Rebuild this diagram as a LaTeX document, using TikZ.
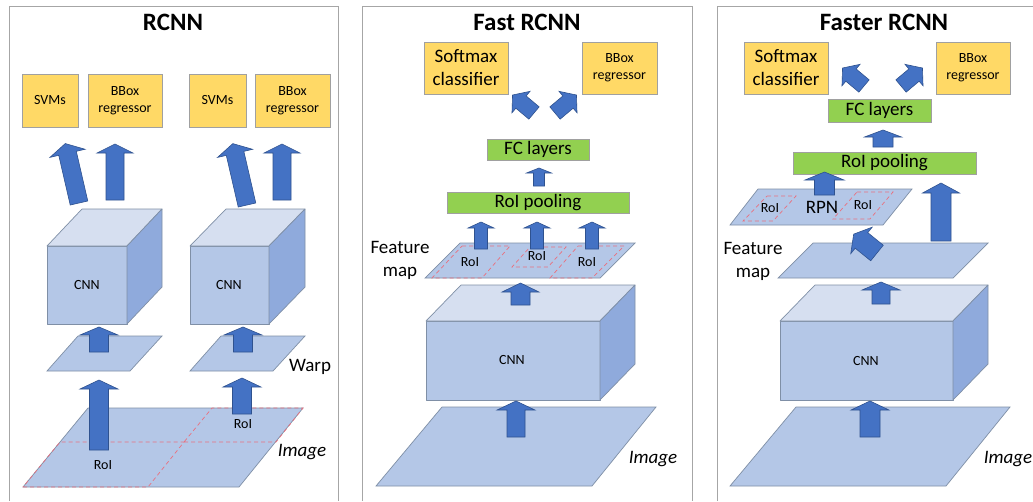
\documentclass[tikz,border=0pt]{standalone}
\usepackage{fontspec}
\setmainfont{Carlito}
\definecolor{ybox}{HTML}{FFD966}
\definecolor{gbox}{HTML}{92D050}
\definecolor{boxline}{HTML}{A0A0A0}
\definecolor{arrowfill}{HTML}{4472C4}
\definecolor{arrowline}{HTML}{2F528F}
\definecolor{planefill}{HTML}{B4C7E7}
\definecolor{planeline}{HTML}{7F8FA6}
\definecolor{cubetop}{HTML}{D6DFF0}
\definecolor{cuberight}{HTML}{8FAADC}
\definecolor{roiline}{HTML}{E8707F}
\definecolor{panelline}{HTML}{A6A6A6}
\newcommand\fsmall{\fontsize{14}{17}\selectfont}
\newcommand\fbig{\fontsize{19}{23}\selectfont}
\newcommand\ftitle{\fontsize{25}{30}\selectfont\bfseries}
\newcommand\drawcube[6]{%
  \path[cubestyle, fill=planefill] (#1,#2) rectangle ++(#3,#4);
  \path[cubestyle, fill=cubetop] (#1,#2) -- ++(#5,-#6) -- ++(#3,0) -- ++(-#5,#6) -- cycle;
  \path[cubestyle, fill=cuberight] (#1+#3,#2) -- ++(#5,-#6) -- ++(0,#4) -- ++(-#5,#6) -- cycle;
}
\tikzset{
  yellowbox/.style={draw=boxline, fill=ybox, line width=0.8pt, inner sep=0pt, align=center},
  greenbox/.style={draw=boxline, fill=gbox, line width=0.8pt, inner sep=0pt, align=center, font=\fbig},
  blockarrow/.style={fill=arrowfill, draw=arrowline, line width=0.6pt, line join=miter},
  plane/.style={fill=planefill, draw=planeline, line width=0.7pt},
  cubestyle/.style={draw=planeline, line width=0.7pt, line join=round},
  roi/.style={draw=roiline, dash pattern=on 4pt off 3pt, line width=0.7pt},
  panel/.style={draw=panelline, line width=1pt},
  lbl/.style={inner sep=0pt, font=\fsmall},
  biglbl/.style={inner sep=0pt, font=\fbig, align=center},
  pics/barrow/.style args={#1/#2/#3/#4}{code={
    \path[blockarrow] (-#2,0) -- (-#2,-#1+#4) -- (-#3,-#1+#4) -- (0,-#1) -- (#3,-#1+#4) -- (#2,-#1+#4) -- (#2,0) -- cycle;
  }}
}
\begin{document}
\begin{tikzpicture}[x=1pt, y=-1pt]
\useasboundingbox (0,0) rectangle (1033,501);
\clip (0,0) rectangle (1033,501);
\fill[white] (0,0) rectangle (1033,501);

% ---------------- panels ----------------
\draw[panel] (9,501) -- (9,6) -- (338,6) -- (338,501);
\draw[panel] (362,501) -- (362,6) -- (692,6) -- (692,501);
\draw[panel] (717,501) -- (717,6) -- (1040,6);

\node[inner sep=0pt, font=\ftitle] (t1) at (173,22) {RCNN};
\node[inner sep=0pt, font=\ftitle] (t2) at (527,22) {Fast RCNN};
\node[inner sep=0pt, font=\ftitle] (t3) at (884,22) {Faster RCNN};

% ================= RCNN =================
\node[yellowbox, font=\fsmall, minimum width=56pt, minimum height=53pt] (svm1) at (50,100.5) {SVMs};
\node[yellowbox, font=\fsmall, minimum width=74pt, minimum height=53pt] (bb1) at (125,100.5) {BBox\\regressor};
\node[yellowbox, font=\fsmall, minimum width=57pt, minimum height=53pt] (svm2) at (217.5,100.5) {SVMs};
\node[yellowbox, font=\fsmall, minimum width=75pt, minimum height=53pt] (bb2) at (292.5,100.5) {BBox\\regressor};

\pic[rotate=13] at (79,203) {barrow={61/9/18/10}};
\pic at (115,200) {barrow={56/9/18/9}};
\pic[rotate=13] at (247,205) {barrow={63/9/18/10}};
\pic at (282,200) {barrow={56/9/18/9}};

\drawcube{47}{246}{80}{78}{35}{37}
\drawcube{190}{246}{79}{78}{36}{37}
\node[lbl] (cnn1) at (87,285) {CNN};
\node[lbl] (cnn2) at (229,285) {CNN};

\path[plane] (78,336) -- (162,336) -- (130,371) -- (47,371) -- cycle;
\path[plane] (221,336) -- (305,336) -- (273,371) -- (190,371) -- cycle;
\pic at (99,352) {barrow={25/9.5/19/8}};
\pic at (243,352) {barrow={25/9.5/19/8}};
\node[biglbl] (warp) at (310,367) {Warp};

\path[plane] (88,408) -- (303,408) -- (239,487) -- (23,487) -- cycle;
\draw[roi] (23,487) -- (148,487) -- (184,442) -- (60,442) -- cycle;
\draw[roi] (184,442) -- (276,442) -- (303,408) -- (212,408) -- cycle;
\pic at (99,450) {barrow={70/9.5/19/9}};
\pic at (242,414) {barrow={36/9.5/19/9}};
\node[lbl] (roi1) at (103,465) {RoI};
\node[lbl] (roi2) at (243,424) {RoI};
\node[biglbl, font=\fbig\itshape] (img1) at (302,452) {Image};

% ================= Fast RCNN =================
\node[yellowbox, font=\fbig, minimum width=84pt, minimum height=52pt] (sm2) at (466,68) {Softmax\\classifier};
\node[yellowbox, font=\fsmall, minimum width=75pt, minimum height=52pt] (bbf) at (619.5,68) {BBox\\regressor};
\pic[rotate=50] at (534,113) {barrow={28/8/14/11}};
\pic[rotate=-50] at (555,113) {barrow={28/8/14/11}};

\node[greenbox, minimum width=102pt, minimum height=21pt] (fc2) at (538,149.5) {FC layers};
\pic at (539,186) {barrow={18/5.5/12.5/5}};
\node[greenbox, minimum width=182pt, minimum height=21pt] (rp2) at (538,202.5) {RoI pooling};

\path[plane] (460,243) -- (635,243) -- (600,278) -- (425,278) -- cycle;
\draw[roi] (462,246) -- (510,246) -- (482,278) -- (432,278) -- cycle;
\draw[roi] (530,247) -- (566,247) -- (548,267) -- (512,267) -- cycle;
\draw[roi] (578,246) -- (624,246) -- (592,278) -- (550,278) -- cycle;
\pic at (481,249) {barrow={27/6.5/13/6}};
\pic at (537,249) {barrow={27/6.5/13/6}};
\pic at (592,249) {barrow={27/6.5/13/6}};
\node[lbl] (froi1) at (470,262) {RoI};
\node[lbl] (froi2) at (537,256) {RoI};
\node[lbl] (froi3) at (587,262) {RoI};
\node[biglbl] (fm2) at (400,260) {Feature\\map};

\drawcube{426}{321}{174}{79}{35}{36}
\node[lbl] (cnn3) at (512,360) {CNN};
\pic at (520.5,305) {barrow={22/9.5/18.5/9}};

\path[plane] (442,407) -- (656,407) -- (592,486) -- (376,486) -- cycle;
\pic at (516,437) {barrow={36/9/19/9}};
\node[biglbl, font=\fbig\itshape] (img2) at (653,459) {Image};

% ================= Faster RCNN =================
\node[yellowbox, font=\fbig, minimum width=84pt, minimum height=52pt] (sm3) at (786,68) {Softmax\\classifier};
\node[yellowbox, font=\fsmall, minimum width=74pt, minimum height=52pt] (bb3) at (973,68) {BBox\\regressor};
\pic[rotate=50] at (864,86) {barrow={28/8/14/11}};
\pic[rotate=-50] at (901,86) {barrow={28/8/14/11}};

\node[greenbox, minimum width=103pt, minimum height=23pt] (fc3) at (879.5,110.5) {FC layers};
\pic at (883,147) {barrow={17/10/18.5/7}};
\node[greenbox, minimum width=183pt, minimum height=22pt] (rp3) at (884.5,163) {RoI pooling};

\path[plane] (758,189) -- (912,189) -- (883,225) -- (730,225) -- cycle;
\draw[roi] (767,196) -- (796,196) -- (773,221) -- (743,221) -- cycle;
\draw[roi] (857,192) -- (893,192) -- (870,219) -- (833,219) -- cycle;
\node[lbl] (rroi1) at (770,208) {RoI};
\node[lbl] (rroi2) at (863,205) {RoI};
\node[biglbl] (rpn) at (822,207) {RPN};
\pic at (824.5,195) {barrow={23/10/19.5/8}};

\path[plane] (813,243) -- (988,243) -- (953,278) -- (778,278) -- cycle;
\pic at (941,241) {barrow={58/10/18.5/10}};
\pic[rotate=51] at (877,253) {barrow={30/10/17/10}};
\node[biglbl] (fm3) at (753,261) {Feature\\map};

\drawcube{780}{321}{173}{79}{35}{36}
\node[lbl] (cnn4) at (866,361) {CNN};
\pic at (881,304) {barrow={22/9/19/8}};

\path[plane] (796,407) -- (1010,407) -- (946,486) -- (730,486) -- cycle;
\pic at (870,437) {barrow={36/10/19/9}};
\node[biglbl, font=\fbig\itshape] (img3) at (1008,459) {Image};
\end{tikzpicture}
\end{document}
